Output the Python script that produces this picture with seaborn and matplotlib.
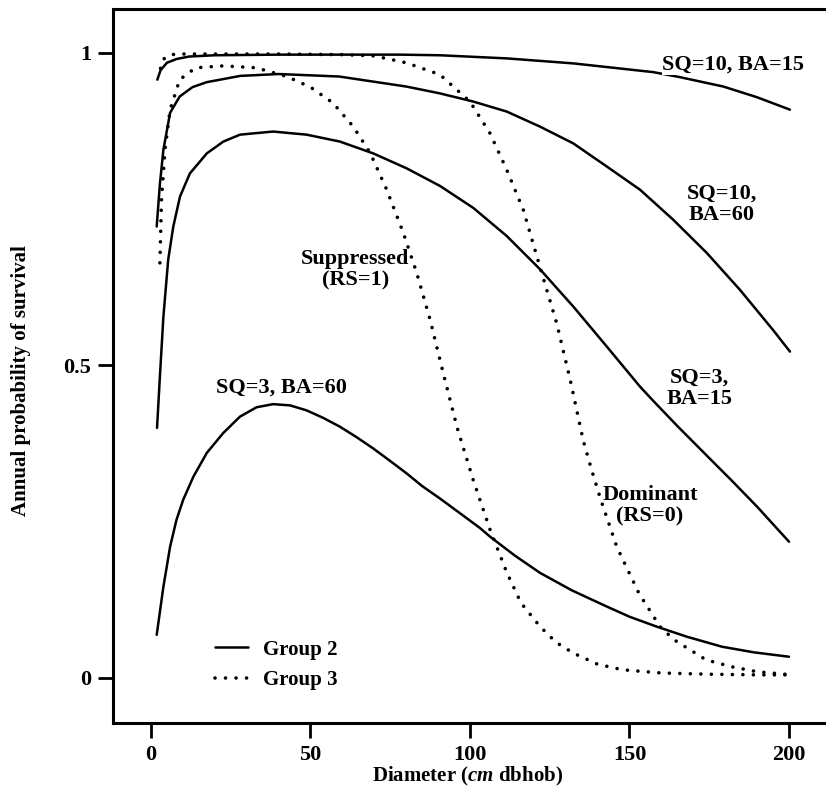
"""Probabilidade anual de sobrevivência em função do diâmetro (Group 2 e Group 3)."""
import pandas as pd
import seaborn as sns
import matplotlib.pyplot as plt
from matplotlib.lines import Line2D

# Group 2 - linhas contínuas
sq10_ba15_x = [2, 3, 5, 8, 12, 20, 40, 60, 78, 90.6, 111.5, 132.4, 157.5, 165.8, 179.4, 189.9, 200.3]
sq10_ba15_y = [.957, .972, .984, .990, .994, .996, .997, .997, .997, .996, .991, .983, .969, .961, .946, .929, .909]

sq10_ba60_x = [1.8, 2.8, 3.9, 6, 9, 13, 17.5, 28, 40, 59, 80, 90.6, 101, 111.5, 121.9, 132.4, 142.9, 153.3,
               163.7, 174.2, 184.6, 195.1, 200.3]
sq10_ba60_y = [.722, .79, .845, .904, .93, .945, .953, .963, .966, .962, .946, .935, .922, .906, .882, .855, .818, .781,
               .733, .680, .621, .556, .522]

sq3_ba15_x = [1.9, 2.8, 3.9, 5.4, 7, 9.1, 12.2, 17.5, 22.7, 27.9, 38.3, 48.8, 59.2, 69.7, 80.2, 90.6, 101, 111.5,
              121.9, 132.4, 142.9, 153.3, 157.5, 165, 173, 182, 190, 200]
sq3_ba15_y = [.40, .482, .578, .669, .722, .770, .807, .839, .858, .869, .874, .869, .858, .839, .815, .787, .752, .707,
              .654, .594, .530, .466, .443, .403, .362, .316, .274, .218]

sq3_ba60_x = [1.8, 3.9, 6, 8, 10.1, 13.3, 17.5, 22.7, 27.9, 33.1, 38.3, 43.6, 48.8, 54, 59.2, 64.5, 69.7, 75, 80.2,
              85, 90.6, 97, 103.1, 106.3, 114, 122, 132, 143, 150, 158.6, 168, 179, 189, 200]
sq3_ba60_y = [.069, .146, .21, .253, .285, .322, .36, .392, .418, .433, .438, .436, .428, .416, .402, .385, .367, .347,
              .327, .307, .287, .263, .240, .226, .196, .168, .14, .114, .098, .082, .066, .05, .041, .034]

# Group 3 - linhas pontilhadas
dominant_x = [3, 4, 6, 10, 20, 40, 60, 70, 80, 90.6, 100, 106.3, 111.5, 116.7, 121.9, 127.2, 131.5, 135.5, 138, 141,
              146, 153, 159.6, 164, 174, 182, 190, 201]
dominant_y = [.975, .99, .997, .998, .998, .998, .997, .995, .984, .965, .922, .871, .813, .749, .658, .567, .475, .38,
              .335, .285, .21, .135, .082, .061, .029, .018, .010, .005]

suppressed_x = [2.8, 3.3, 4.4, 6, 9, 14, 22.6, 33, 42.6, 50, 57, 63.4, 68.7, 73.9, 79.1, 83.3, 87.5, 91.6, 96, 101,
                106.3, 111.6, 116, 122, 127, 132.3, 140, 148, 160, 175, 190, 201]
suppressed_y = [.664, .765, .845, .909, .957, .976, .979, .976, .962, .945, .92, .882, .840, .781, .712, .648, .573,
                .488, .40, .317, .237, .168, .12, .082, .057, .04, .022, .013, .008, .006, .005, .005]

curvas = [
    ("SQ=10, BA=15", "Group 2", sq10_ba15_x, sq10_ba15_y),
    ("SQ=10, BA=60", "Group 2", sq10_ba60_x, sq10_ba60_y),
    ("SQ=3, BA=15", "Group 2", sq3_ba15_x, sq3_ba15_y),
    ("SQ=3, BA=60", "Group 2", sq3_ba60_x, sq3_ba60_y),
    ("Dominant", "Group 3", dominant_x, dominant_y),
    ("Suppressed", "Group 3", suppressed_x, suppressed_y),
]

rows = []
for nome, grupo, xs, ys in curvas:
    for x, y in zip(xs, ys):
        rows.append({"curve": nome, "group": grupo, "diameter": x, "survival": y})
df = pd.DataFrame(rows)

sns.set_theme(style="ticks")
plt.rcParams["font.family"] = ["Liberation Serif", "DejaVu Serif"]
plt.rcParams["font.weight"] = "bold"
plt.rcParams["axes.labelweight"] = "bold"
plt.rcParams["text.color"] = "black"
plt.rcParams["axes.labelcolor"] = "black"
plt.rcParams["mathtext.fontset"] = "custom"
plt.rcParams["mathtext.rm"] = "Liberation Serif:bold"
plt.rcParams["mathtext.it"] = "Liberation Serif:italic:bold"

fig = plt.figure(figsize=(8.26, 7.91), dpi=100)
ax = fig.add_axes([113 / 826, 68 / 791, 1 - 113 / 826, 714 / 791])

dots = (0.01, 2.9)
sns.lineplot(data=df, x="diameter", y="survival", units="curve", estimator=None,
             style="group", dashes={"Group 2": "", "Group 3": dots},
             color="black", linewidth=1.8, legend=False, ax=ax)

# pontos redondos para o Group 3
for line in ax.lines:
    line.set_solid_joinstyle("round")
    if line.get_linestyle() != "-":
        line.set_linewidth(2.6)
        line.set_dash_capstyle("round")

ax.set_xlim(-11.9, 211.6)
ax.set_ylim(-0.072, 1.07)
ax.set_xticks([0, 50, 100, 150, 200])
ax.set_yticks([0, 0.5, 1])
ax.set_yticklabels(["0", "0.5", "1"])
ax.tick_params(direction="out", length=10.5, width=2, labelsize=16, pad=5, colors="black")

ax.spines["right"].set_visible(False)
for lado in ["left", "bottom", "top"]:
    ax.spines[lado].set_linewidth(2.2)
    ax.spines[lado].set_color("black")

ax.set_xlabel(r"Diameter ($\mathit{cm}$ dbhob)", fontsize=15, fontweight="bold", color="black")
ax.xaxis.set_label_coords(0.498, -0.059)
ax.set_ylabel("Annual probability of survival", fontsize=15, fontweight="bold", color="black")
ax.yaxis.set_label_coords(-0.115, 0.48)

# rótulos das curvas
fs = 16
ax.text(160.2, 0.981, "SQ=10, BA=15", ha="left", va="center", fontsize=fs, color="black",
        bbox=dict(facecolor="white", edgecolor="none", pad=0.3))
ax.text(179, 0.757, "SQ=10,\nBA=60", ha="center", va="center", fontsize=fs, color="black",
        multialignment="center", linespacing=1.1)
ax.text(172, 0.464, "SQ=3,\nBA=15", ha="center", va="center", fontsize=fs, color="black",
        multialignment="center", linespacing=1.1)
ax.text(64, 0.653, "Suppressed\n(RS=1)", ha="center", va="center", fontsize=fs, color="black",
        multialignment="center", linespacing=1.1)
ax.text(41, 0.464, "SQ=3, BA=60", ha="center", va="center", fontsize=fs, color="black")
ax.text(156.4, 0.275, "Dominant\n(RS=0)", ha="center", va="center", fontsize=fs, color="black",
        multialignment="center", linespacing=1.1)

handles = [
    Line2D([], [], color="black", linewidth=1.8),
    Line2D([], [], color="black", linewidth=2.6, linestyle=(0, dots), dash_capstyle="round"),
]
leg = ax.legend(handles, ["Group 2", "Group 3"], loc="lower left", bbox_to_anchor=(0.143, 0.046),
                frameon=False, borderpad=0, borderaxespad=0, handlelength=1.6, handletextpad=0.7,
                labelspacing=0.5, fontsize=15)
for t in leg.get_texts():
    t.set_color("black")

fig.savefig("out.png", dpi=100, facecolor="white")
